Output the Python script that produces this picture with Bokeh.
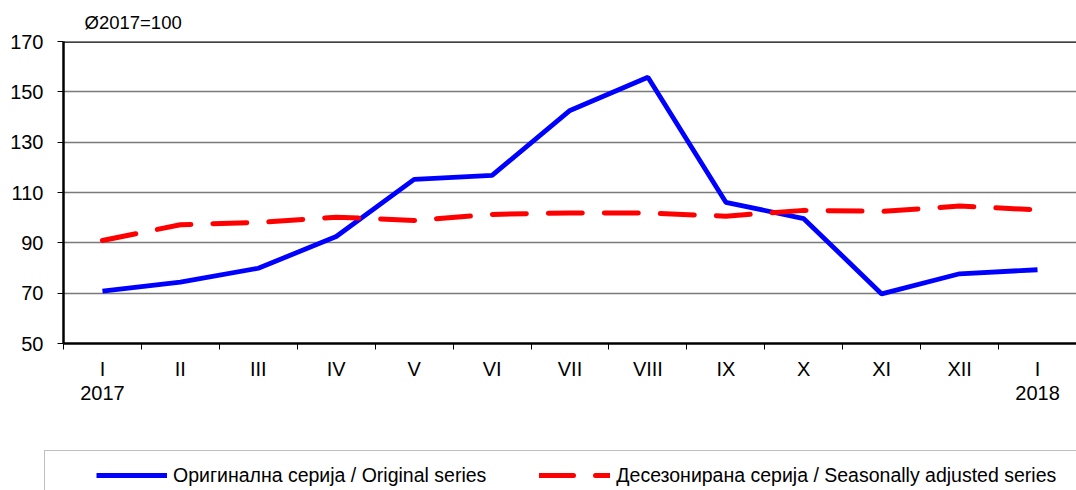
from bokeh.plotting import figure
from bokeh.layouts import column
from bokeh.models import (Range1d, FixedTicker, Span, Legend, LegendItem, ColumnDataSource)
from bokeh.embed import file_html
from bokeh.resources import INLINE

# ---- data ----
categories = ["I\n2017", "II", "III", "IV", "V", "VI", "VII", "VIII", "IX", "X", "XI", "XII", "I\n2018"]
original = [70.8, 74.4, 79.9, 92.5, 115.2, 116.8, 142.6, 155.8, 106.1, 99.6, 69.7, 77.7, 79.3]
seasonal = [90.9, 97.2, 98.1, 100.2, 98.9, 101.3, 101.9, 101.8, 100.6, 102.9, 102.5, 104.6, 103.1]
y_ticks = [50, 70, 90, 110, 130, 150, 170]
title_text = "Ø2017=100"
label_original = "Оригинална серија / Original series"
label_seasonal = "Десезонирана серија / Seasonally adjusted series"

FONT = "Liberation Sans"
BLUE = "#0000FF"
RED = "#FF0000"

n = len(categories)
xpos = [i + 0.5 for i in range(n)]
src = ColumnDataSource(dict(x=xpos, orig=original, seas=seasonal))

p = figure(width=1076, height=450, output_backend="svg", toolbar_location=None,
           x_range=Range1d(0, n), y_range=Range1d(y_ticks[0], y_ticks[-1]),
           min_border_left=63, min_border_right=0, min_border_top=41, min_border_bottom=107)
p.outline_line_color = None
p.background_fill_color = "white"
p.border_fill_color = "white"

# title
p.title.text = title_text
p.title.text_font = FONT
p.title.text_font_size = "18.5px"
p.title.text_font_style = "normal"
p.title.text_color = "black"
p.title.align = "left"
p.title.offset = 21
p.title.standoff = 17

# y axis
yt = FixedTicker(ticks=y_ticks)
p.yaxis.ticker = yt
p.yaxis.axis_line_width = 2.5
p.yaxis.axis_line_color = "black"
p.yaxis.major_tick_out = 6
p.yaxis.major_tick_in = 0
p.yaxis.minor_tick_out = 0
p.yaxis.minor_tick_in = 0
p.yaxis.major_label_text_font = FONT
p.yaxis.major_label_text_font_size = "20px"
p.yaxis.major_label_text_color = "black"
p.yaxis.major_label_standoff = 14

# x axis
xt = FixedTicker(ticks=xpos, minor_ticks=list(range(n + 1)))
p.xaxis.ticker = xt
p.xaxis.major_label_overrides = {x: c for x, c in zip(xpos, categories)}
p.xaxis.axis_line_width = 2.5
p.xaxis.axis_line_color = "black"
p.xaxis.major_tick_out = 0
p.xaxis.major_tick_in = 0
p.xaxis.minor_tick_out = 6
p.xaxis.minor_tick_in = 0
p.xaxis.minor_tick_line_color = "black"
p.xaxis.major_label_text_font = FONT
p.xaxis.major_label_text_font_size = "20px"
p.xaxis.major_label_text_color = "black"
p.xaxis.major_label_text_line_height = 1.1
p.xaxis.major_label_standoff = 8

p.xgrid.visible = False
p.ygrid.ticker = yt
p.ygrid.grid_line_color = "#7a7a7a"
p.ygrid.grid_line_width = 1.3

p.add_layout(Span(location=y_ticks[-1], dimension="width", line_color="black", line_width=2.5))

p.line("x", "orig", source=src, line_color=BLUE, line_width=4.8)
p.line("x", "seas", source=src, line_color=RED, line_width=5,
       line_dash="34 22", line_cap="round")

# ---- legend strip ----
q = figure(width=1076, height=40, output_backend="svg", toolbar_location=None,
           x_range=Range1d(0, 1), y_range=Range1d(0, 1),
           x_axis_location=None, y_axis_location=None,
           min_border=0, min_border_left=0, min_border_right=0, min_border_top=0, min_border_bottom=0)
q.grid.visible = False
q.outline_line_color = None
q.background_fill_color = "white"
q.border_fill_color = "white"

for fig in (p, q):
    try:
        fig.frame_align = False
    except Exception:
        pass

off = dict(x=[-10, -9], y=[-10, -9])
dummy = q.line(x=off["x"], y=off["y"], line_alpha=0)
g1 = q.line(x=off["x"], y=off["y"], line_color=BLUE, line_width=4.8)
g2 = q.line(x=off["x"], y=off["y"], line_color=RED, line_width=5, line_dash="34 22", line_cap="round")

box = Legend(items=[LegendItem(label=" ", renderers=[dummy])], location=(44, -22),
             orientation="horizontal", padding=0, margin=0, spacing=0,
             glyph_width=1, glyph_height=60, label_width=1200, label_height=60,
             border_line_color="#808080", border_line_width=1.2,
             background_fill_color="white", background_fill_alpha=1)
q.add_layout(box, "center")

leg = Legend(items=[LegendItem(label=label_original, renderers=[g1]),
                    LegendItem(label=label_seasonal, renderers=[g2])],
             location=(96, 3), orientation="horizontal", padding=0, margin=0,
             spacing=53, glyph_width=71, glyph_height=24, label_height=24, label_standoff=6,
             label_text_font=FONT, label_text_font_size="19.5px", label_text_color="black",
             border_line_alpha=0, background_fill_alpha=0)
q.add_layout(leg, "center")

layout = column(p, q, spacing=0)
open("out.html", "w").write(file_html(layout, INLINE))
